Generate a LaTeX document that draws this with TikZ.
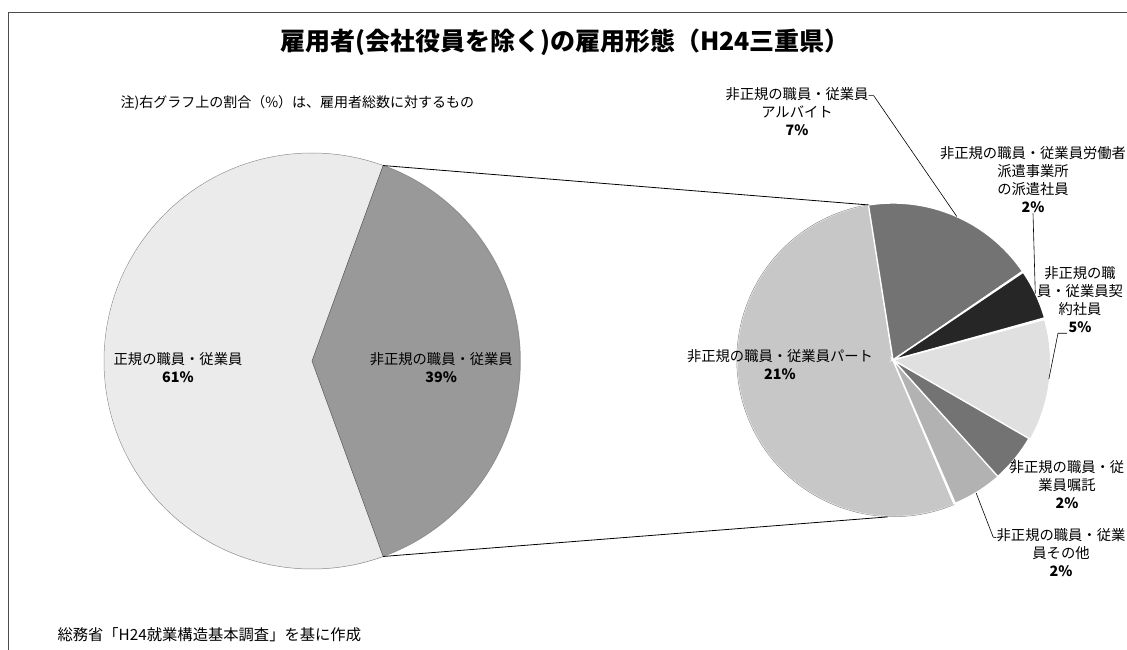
\documentclass[tikz,border=0pt]{standalone}
\usepackage{fontspec}
\setmainfont{Noto Sans CJK JP}
\usepackage{tikz}
\usetikzlibrary{positioning}

\tikzset{
  pie/.style={circle, inner sep=0pt, outer sep=0pt},
  lbl/.style={align=center, inner sep=0pt, font=\fontsize{14.3}{18}\selectfont},
  leader/.style={draw=black, line width=0.6pt},
  gap/.style={draw=white, line width=1.4pt},
}

\begin{document}
\begin{tikzpicture}[x=1pt, y=1pt]
\clip (0,0) rectangle (1127,649);
\fill[white] (0,0) rectangle (1127,649);
\draw[black!70, line width=0.8pt] (8,-2) -- (8,637) -- (1130,637);

\node[font=\bfseries\fontsize{25}{28}\selectfont] (title) at (565,607) {雇用者(会社役員を除く)の雇用形態（H24三重県）};
\node[anchor=west, font=\fontsize{14}{16}\selectfont] (note) at (117,546) {注)右グラフ上の割合（\%）は、雇用者総数に対するもの};
\node[anchor=west, font=\fontsize{15.3}{17}\selectfont] (src) at (54,14) {総務省「H24就業構造基本調査」を基に作成};

\node[pie, minimum size=416pt] (L) at (312,288) {};
\node[pie, minimum size=314pt] (R) at (893,289) {};

% left pie
\fill[black!8] (L.center) -- (L.70.2) arc[start angle=70.2, end angle=289.8, radius=208] -- cycle;
\fill[black!40] (L.center) -- (L.-70.2) arc[start angle=-70.2, end angle=70.2, radius=208] -- cycle;
\draw[black!45, line width=0.5pt] (L.center) circle[radius=208];
\draw[black!65, line width=0.5pt] (L.70.2) -- (L.center) -- (L.-70.2);

% right pie
\filldraw[gap, fill=black!22] (R.center) -- (R.-67.3) arc[start angle=-67.3, end angle=-261, radius=157] -- cycle;
\filldraw[gap, fill=black!55] (R.center) -- (R.99) arc[start angle=99, end angle=34.4, radius=157] -- cycle;
\filldraw[gap, fill=black!85] (R.center) -- (R.34.4) arc[start angle=34.4, end angle=15.9, radius=157] -- cycle;
\filldraw[gap, fill=black!12] (R.center) -- (R.15.9) arc[start angle=15.9, end angle=-30.3, radius=157] -- cycle;
\filldraw[gap, fill=black!55] (R.center) -- (R.-30.3) arc[start angle=-30.3, end angle=-48.8, radius=157] -- cycle;
\filldraw[gap, fill=black!30] (R.center) -- (R.-48.8) arc[start angle=-48.8, end angle=-67.3, radius=157] -- cycle;
\draw[black!45, line width=0.5pt] (R.-67.3) arc[start angle=-67.3, end angle=-261, radius=157];

% connectors
\draw[line width=0.8pt] (L.70.2) -- (R.99);
\draw[line width=0.8pt] (L.-70.2) -- (R.-92);

\node[lbl] (reglab) at (178,281) {正規の職員・従業員\\\textbf{61\%}};
\node[lbl, right=127pt of reglab] (nonreglab) {非正規の職員・従業員\\\textbf{39\%}};
\node[lbl] (partlab) at (780,284) {非正規の職員・従業員パート\\\textbf{21\%}};
\node[lbl] (arblab) at (797,537) {非正規の職員・従業員\\アルバイト\\\textbf{7\%}};
\node[lbl] (dislab) at (1033,469) {非正規の職員・従業員労働者\\派遣事業所\\の派遣社員\\\textbf{2\%}};
\node[lbl] (conlab) at (1080,349) {非正規の職\\員・従業員契\\約社員\\\textbf{5\%}};
\node[lbl] (entlab) at (1067,164) {非正規の職員・従\\業員嘱託\\\textbf{2\%}};
\node[lbl] (othlab) at (1061,96) {非正規の職員・従業\\員その他\\\textbf{2\%}};

% leaders
\draw[leader] ([yshift=-8pt]arblab.north east) -- ++(5,0) -- (R.66.7);
\draw[leader] (dislab.south) -- (R.25.2);
\draw[leader] ([xshift=-13pt]conlab.south) -- ++(-9,0) -- (R.-7.2);
\draw[leader] (R.-39.5) -- ([yshift=-8pt]entlab.north west);
\draw[leader] (R.-58) -- ++(17,-44) -- ([yshift=-9pt]othlab.north west);
\end{tikzpicture}
\end{document}
